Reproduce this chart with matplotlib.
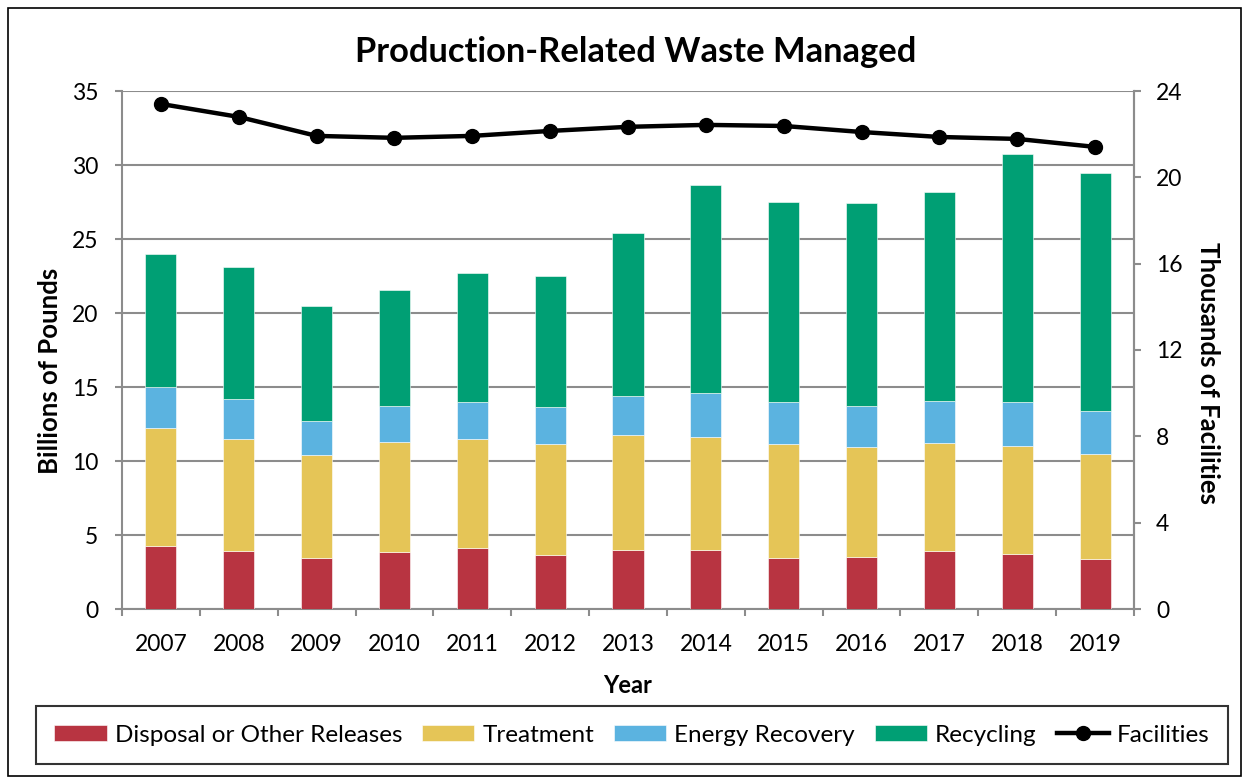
import matplotlib
matplotlib.use("Agg")
import matplotlib.pyplot as plt
import numpy as np
from matplotlib.patches import Rectangle

plt.rcParams['font.family'] = ['Lato', 'DejaVu Sans']

years = ['2007', '2008', '2009', '2010', '2011', '2012', '2013',
         '2014', '2015', '2016', '2017', '2018', '2019']
disposal = [4.26, 3.92, 3.45, 3.85, 4.12, 3.65, 3.99, 3.99, 3.45, 3.50, 3.92, 3.72, 3.38]
treatment = [7.97, 7.57, 6.95, 7.43, 7.37, 7.50, 7.77, 7.63, 7.70, 7.45, 7.30, 7.29, 7.09]
energy = [2.77, 2.70, 2.30, 2.44, 2.50, 2.50, 2.63, 2.98, 2.84, 2.77, 2.83, 2.98, 2.91]
recycling = [8.99, 8.91, 7.77, 7.83, 8.71, 8.85, 11.01, 14.05, 13.51, 13.71, 14.13, 16.75, 16.08]
facilities = [23.40, 22.80, 21.92, 21.83, 21.92, 22.15, 22.34, 22.43, 22.38, 22.10, 21.87, 21.78, 21.41]

series_names = ['Disposal or Other Releases', 'Treatment', 'Energy Recovery', 'Recycling']
colors = ['#B83441', '#E5C557', '#5BB3E0', '#009F74']
grey = '#8C8C8C'

fig = plt.figure(figsize=(12.49, 7.8), dpi=100)
ax = fig.add_axes([122/1249, 1-609/780, (1134-122)/1249, (609-91)/780])

x = np.arange(len(years))
bottom = np.zeros(len(years))
for vals, c, name in zip([disposal, treatment, energy, recycling], colors, series_names):
    ax.bar(x, vals, 0.4, bottom=bottom, color=c, label=name, zorder=3,
           edgecolor='white', linewidth=0.4)
    bottom += np.array(vals)

ax.set_xlim(-0.5, len(years) - 0.5)
ax.set_ylim(0, 35)
ax.set_yticks(range(0, 36, 5))
ax.yaxis.grid(True, color=grey, linewidth=1.5, zorder=0)
ax.set_axisbelow(True)
ax.set_xticks(x)
ax.set_xticklabels(years)
ax.set_xticks(np.arange(-0.5, len(years), 1), minor=True)
ax.tick_params(axis='x', which='major', length=0, labelsize=16.5, pad=18)
ax.tick_params(axis='x', which='minor', length=5, color=grey, width=1.5)
ax.tick_params(axis='y', length=5, color=grey, width=1.5, labelsize=16.5, pad=12)
for s in ['left', 'bottom', 'right']:
    ax.spines[s].set_color(grey)
    ax.spines[s].set_linewidth(1.5)
ax.spines['top'].set_visible(False)
ax.set_xlabel('Year', fontsize=17, fontweight='bold', labelpad=14)
ax.set_ylabel('Billions of Pounds', fontsize=18.5, fontweight='bold',
              va='center', ha='center', rotation_mode='anchor')
ax.yaxis.set_label_coords(-0.071, 0.46)

ax2 = ax.twinx()
ax2.plot(x, facilities, color='black', linewidth=3.2, marker='o', markersize=10,
         label='Facilities', zorder=5)
ax2.set_ylim(0, 24)
ax2.set_yticks(range(0, 25, 4))
ax2.tick_params(axis='y', length=5, color=grey, width=1.5, labelsize=16.5, pad=11)
for s in ['left', 'bottom', 'top']:
    ax2.spines[s].set_visible(False)
ax2.spines['right'].set_color(grey)
ax2.spines['right'].set_linewidth(1.5)
ax2.set_ylabel('Thousands of Facilities', fontsize=18.5, fontweight='bold',
               rotation=-90, va='center', ha='center', rotation_mode='anchor')
ax2.yaxis.set_label_coords(1.073, 0.455)

fig.text(636/1249, 1 - 52/780, 'Production-Related Waste Managed', ha='center', va='center',
         fontsize=24.8, fontweight='bold')

handles, labels = ax.get_legend_handles_labels()
h2, l2 = ax2.get_legend_handles_labels()
leg = fig.legend(handles + h2, labels + l2, loc='center', ncol=5,
                 bbox_to_anchor=(632/1249, 1 - 735/780), fontsize=17.5,
                 frameon=True, fancybox=False, edgecolor='black',
                 handlelength=2.15, handleheight=0.62, columnspacing=0.82,
                 handletextpad=0.33, borderpad=0.75, borderaxespad=0)
leg.get_frame().set_linewidth(1.5)

fig.patches.append(Rectangle((8/1249, 4/780), 1233/1249, 768/780, transform=fig.transFigure,
                             fill=False, edgecolor='black', linewidth=1.2))

fig.savefig('out.png', dpi=100)
